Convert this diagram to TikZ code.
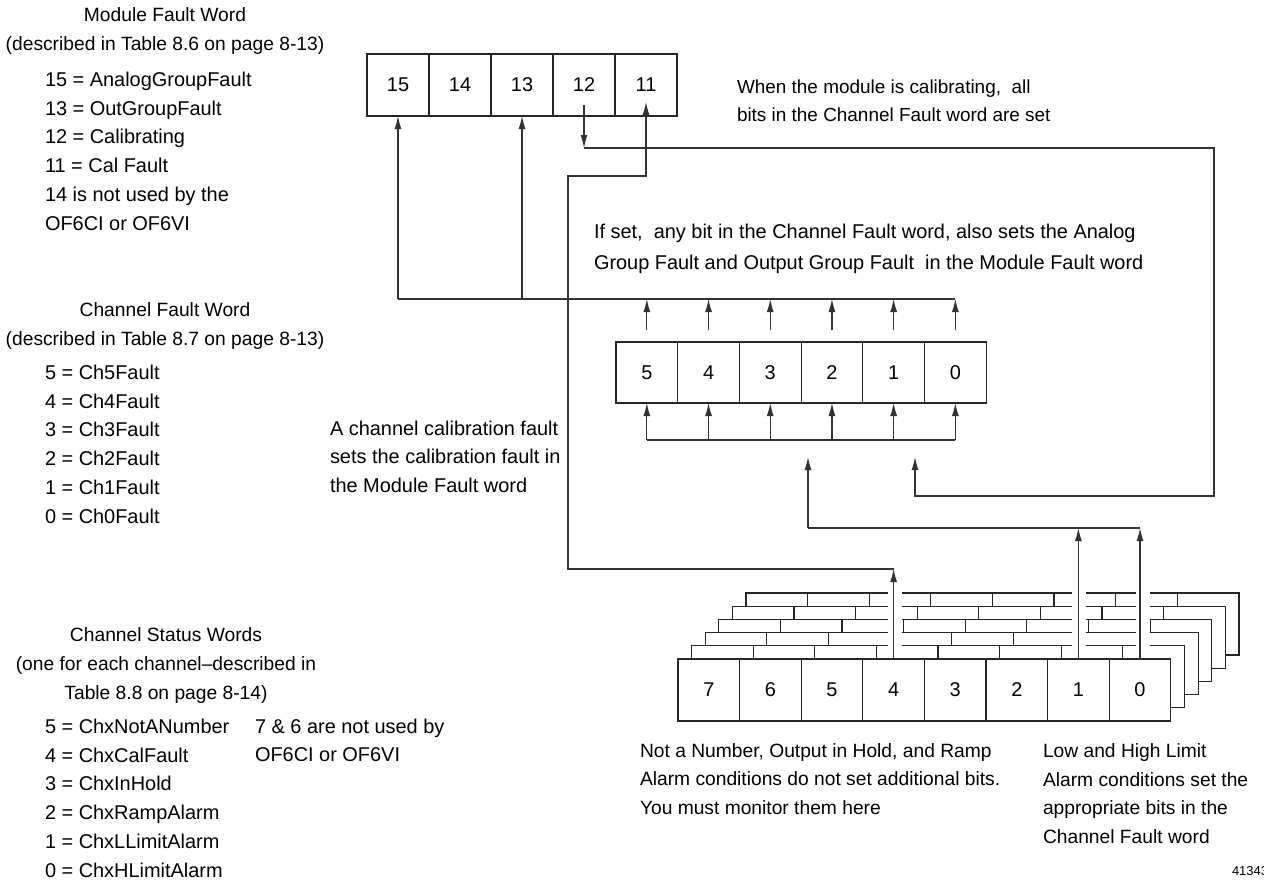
\documentclass[tikz,border=0pt]{standalone}
\usepackage{fontspec}
\setmainfont{Liberation Sans}
\usetikzlibrary{arrows.meta}
\begin{document}
\begin{tikzpicture}[x=1bp,y=-1bp,
  every node/.style={inner sep=0pt, outer sep=0pt},
  txt/.style={font=\fontsize{20}{28.8}\selectfont, align=left, anchor=base west},
  stxt/.style={txt, font=\fontsize{19.3}{28.8}\selectfont},
  ctxt/.style={font=\fontsize{19.3}{28.5}\selectfont, align=center, anchor=base},
  cell/.style={draw=black!85, fill=white, line width=1.1bp, minimum width=62bp, minimum height=62bp, font=\fontsize{20}{24}\selectfont},
  ccell/.style={cell, minimum width=61.7bp, minimum height=61bp},
  scell/.style={cell, minimum width=61.6bp, minimum height=62bp},
  wire/.style={draw=black!80, line width=1.1bp},
  arr/.style={wire, -{Latex[length=13bp,width=7bp]}},
]
\useasboundingbox (0,0) rectangle (1264,892);

% ---------- module fault word ----------
\node[cell] (m15) at (398,85) {15};
\node[cell] (m14) at (460,85) {14};
\node[cell] (m13) at (522,85) {13};
\node[cell] (m12) at (584,85) {12};
\node[cell] (m11) at (646,85) {11};

% ---------- channel fault word ----------
\foreach \b [count=\i from 0] in {5,4,3,2,1,0}
  \node[ccell] (c\b) at ({646.85+61.7*\i},372.5) {\b};

% ---------- stacked channel status words ----------
\foreach \k in {5,4,3,2,1} {
  \filldraw[draw=black!85, fill=white, line width=1.1bp]
    ({678+13.6*\k},{659-13.2*\k}) rectangle ({1171+13.6*\k},{721-13.2*\k});
  \foreach \j in {1,...,7}
    \draw[draw=black!85, line width=1.1bp] ({678+61.6*\j+13.6*\k},{659-13.2*\k}) -- ++(0,62);
}
\fill[white] (888,586) rectangle (902,658);
\fill[white] (1072,586) rectangle (1086,658);
\fill[white] (1136,586) rectangle (1150,658);
\foreach \b [count=\i from 0] in {7,6,5,4,3,2,1,0}
  \node[scell] (s\b) at ({708.8+61.6*\i},690) {\b};

% ---------- helper coordinates ----------
\coordinate (tb) at (0,299);
\coordinate (bb) at (0,440);
\coordinate (lhA) at (808,528);
\coordinate (lhT) at (808,457);
\coordinate (calR) at (1214,148);
\coordinate (calB) at (1214,496);
\coordinate (calT) at (915,457);
\coordinate (cfL) at (568,176);
\coordinate (cfB) at (568,569);

% ---------- connectors ----------
\draw[wire] (m15 |- tb) -- (c0 |- tb);
\draw[arr] (m15 |- tb) -- (m15.south);
\draw[arr] (m13 |- tb) -- (m13.south);
\foreach \b in {5,4,3,2,1,0} {
  \draw[arr] ([yshift=12bp]c\b.north) -- (c\b |- tb);
  \draw[arr] (c\b |- bb) -- (c\b.south);
}
\draw[wire] (c5 |- bb) -- (c0 |- bb);

\draw[arr] (s1.north) -- (s1 |- lhA);
\draw[arr] (s0.north) -- (s0 |- lhA);
\draw[wire] (lhA) -- (s0 |- lhA);
\draw[arr] (lhA) -- (lhT);

\draw[arr] ([yshift=-20bp]m12.center) -- (m12 |- calR);
\draw[arr] (m12 |- calR) -- (calR) -- (calB) -- (calB -| calT) -- (calT);

\draw[arr] (s4.north) -- (s4 |- cfB);
\draw[arr] (s4 |- cfB) -- (cfB) -- (cfL) -- (cfL -| m11) -- ([yshift=-17bp]m11.center);

% ---------- texts (multi-line nodes anchored at baseline of last line) ----------
\node[ctxt] (t1) at (165,21) {Module Fault Word};
\node[ctxt] (t2) at (165,50) {(described in Table 8.6 on page 8-13)};
\node[txt] (t3) at (45,230) {15 = AnalogGroupFault\\13 = OutGroupFault\\12 = Calibrating\\11 = Cal Fault\\14 is not used by the\\OF6CI or OF6VI};

\node[ctxt] (t4) at (165,316) {Channel Fault Word};
\node[ctxt] (t5) at (165,345) {(described in Table 8.7 on page 8-13)};
\node[txt] (t6) at (45,523) {5 = Ch5Fault\\4 = Ch4Fault\\3 = Ch3Fault\\2 = Ch2Fault\\1 = Ch1Fault\\0 = Ch0Fault};

\node[txt] (t7) at (330,492.6) {A channel calibration fault\\sets the calibration fault in\\the Module Fault word};

\node[ctxt] (t8) at (166,641) {Channel Status Words};
\node[ctxt] (t9) at (166,670) {(one for each channel--described in};
\node[ctxt] (t10) at (166,699) {Table 8.8 on page 8-14)};
\node[txt] (t11) at (45,877) {5 = ChxNotANumber\\4 = ChxCalFault\\3 = ChxInHold\\2 = ChxRampAlarm\\1 = ChxLLimitAlarm\\0 = ChxHLimitAlarm};
\node[txt] (t12) at (255,761.8) {7 \& 6 are not used by\\OF6CI or OF6VI};

\node[stxt, font=\fontsize{19}{28.8}\selectfont] (t13) at (737,121.8) {When the module is calibrating,\ \ all\\bits in the Channel Fault word are set};
\node[txt, font=\fontsize{20}{31}\selectfont] (t14) at (594,269) {If set,\ \ any bit in the Channel Fault word, also sets the Analog\\Group Fault and Output Group Fault\ \ in the Module Fault word};

\node[stxt] (t15) at (640,814.6) {Not a Number, Output in Hold, and Ramp\\Alarm conditions do not set additional bits.\\You must monitor them here};
\node[stxt] (t16) at (1043,843.4) {Low and High Limit\\Alarm conditions set the\\appropriate bits in the\\Channel Fault word};

\node[anchor=base west, font=\fontsize{13}{15}\selectfont] (t17) at (1232,875) {41343};
\end{tikzpicture}
\end{document}
